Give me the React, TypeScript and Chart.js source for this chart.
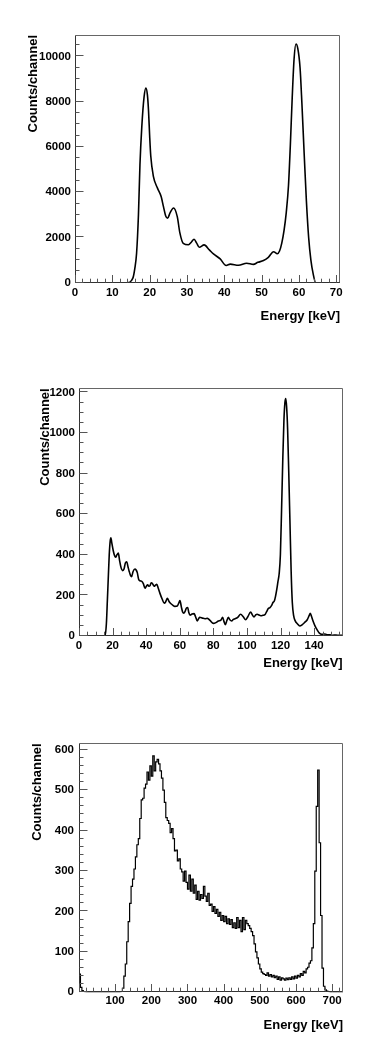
import React, { useEffect, useRef } from "react";
import { Chart, registerables } from "chart.js";

Chart.register(...registerables);

// ---------- Panel 1 : smooth spectrum 0-70 keV ----------
const energyA = [0, 14, 15.5, 16.0, 16.5, 17.0, 17.4, 17.9, 18.5, 19.0, 19.4, 19.7, 20.0, 20.3, 21.0, 22.1, 23.1, 23.7, 24.3, 24.8, 25.5, 26.4, 27.4, 28.1, 29.0, 30.4, 31.2, 31.9, 32.6, 33.3, 34.6, 36.0, 37.1, 38.9, 40.5, 41.6, 43.8, 46.0, 47.8, 49.0, 50.5, 51.8, 53.2, 54.2, 54.8, 55.4, 56.0, 56.6, 57.2, 57.7, 58.2, 58.7, 59.2, 59.7, 60.3, 60.8, 61.4, 62.0, 62.6, 63.2, 63.8, 64.5, 71];
const countsA = [0, 0, 200, 600, 1300, 3000, 5200, 6900, 8200, 8600, 8300, 7600, 6500, 5600, 4700, 4180, 3800, 3360, 2950, 2850, 3100, 3300, 2920, 2200, 1740, 1680, 1800, 1920, 1750, 1570, 1670, 1450, 1270, 1050, 760, 820, 770, 860, 810, 900, 980, 1120, 1370, 1280, 1400, 1750, 2300, 3100, 4300, 6100, 8200, 9900, 10550, 10350, 9500, 7900, 5700, 3600, 2000, 1000, 400, 0, 0];
const xTicksA = [0, 10, 20, 30, 40, 50, 60, 70];
const yTicksA = [0, 2000, 4000, 6000, 8000, 10000];

// ---------- Panel 2 : smooth spectrum 0-157 keV ----------
const energyB = [0, 15.5, 16.3, 16.9, 17.5, 18.0, 18.6, 19.0, 19.5, 20.4, 21.2, 21.8, 22.6, 23.4, 24.2, 25.0, 26.0, 26.8, 27.6, 28.4, 29.2, 29.9, 30.6, 31.3, 32.2, 33.3, 34.0, 34.7, 35.5, 36.3, 37.2, 38.3, 39.3, 40.1, 40.9, 41.6, 42.3, 43.0, 43.6, 44.3, 44.8, 45.5, 46.3, 47.2, 48.2, 49.5, 50.8, 51.7, 52.6, 53.6, 54.6, 55.8, 57.1, 58.5, 59.3, 60.1, 60.9, 61.7, 62.4, 63.1, 64.0, 64.7, 65.4, 66.1, 67.3, 68.5, 69.4, 70.4, 71.2, 71.9, 73.5, 75.0, 76.5, 78.0, 80.0, 81.5, 83.0, 84.5, 85.5, 86.3, 87.1, 88.0, 88.9, 89.8, 90.9, 91.9, 92.9, 94.5, 96.2, 97.8, 99.2, 100.5, 102.2, 103.2, 104.2, 105.2, 106.1, 107.2, 108.2, 109.5, 110.7, 111.7, 112.7, 113.7, 114.7, 115.5, 116.3, 117.0, 117.7, 118.4, 119.2, 119.9, 120.6, 121.3, 122.0, 122.6, 123.1, 123.6, 124.2, 124.9, 125.6, 126.3, 127.0, 127.8, 128.6, 130.0, 131.5, 132.8, 134.5, 135.9, 137.0, 137.7, 138.5, 139.5, 140.5, 141.8, 143.1, 144.5, 146.4, 148.0, 149.4, 151.0, 153.0, 155.0, 157.0];
const countsB = [0, 0, 60, 177, 300, 400, 470, 484, 460, 420, 395, 388, 400, 408, 370, 338, 322, 330, 360, 366, 340, 318, 300, 292, 318, 330, 325, 312, 280, 272, 270, 258, 235, 245, 252, 245, 248, 262, 260, 250, 245, 250, 255, 235, 210, 182, 161, 170, 186, 170, 160, 152, 146, 148, 160, 175, 145, 118, 112, 120, 138, 140, 115, 102, 108, 110, 95, 74, 85, 92, 88, 85, 87, 77, 62, 66, 74, 78, 92, 72, 56, 75, 92, 80, 74, 82, 85, 92, 107, 95, 80, 95, 118, 104, 94, 104, 107, 103, 100, 102, 105, 120, 135, 140, 151, 165, 172, 195, 227, 265, 309, 400, 620, 860, 1060, 1150, 1170, 1130, 1020, 800, 560, 320, 165, 100, 77, 60, 49, 55, 68, 80, 100, 112, 95, 70, 50, 30, 14, 8, 10, 6, 6, 4, 5, 3, 3];
const xTicksB = [0, 20, 40, 60, 80, 100, 120, 140];
const yTicksB = [0, 200, 400, 600, 800, 1000, 1200];

// ---------- Panel 3 : histogram 0-730 keV, 4 keV channels ----------
const binWidthC = 4;
const countsC = [
  150, 45, 12, 4, 2, 1, 0, 0, 0, 0,
  0, 0, 0, 0, 0, 0, 0, 0, 0, 0,
  0, 0, 0, 0, 0, 0, 0, 0, 0, 1,
  2, 10, 40, 70, 125, 175, 220, 262, 280, 305,
  335, 365, 380, 430, 476, 480, 505, 515, 545, 525,
  560, 535, 585, 548, 570, 576, 565, 548, 530, 500,
  470, 432, 425, 418, 395, 405, 380, 350, 352, 325,
  330, 305, 298, 275, 300, 272, 255, 290, 250, 280,
  245, 265, 230, 250, 228, 242, 232, 262, 238, 225,
  245, 215, 218, 200, 212, 195, 205, 188, 198, 178,
  190, 175, 188, 170, 182, 168, 180, 160, 172, 158,
  185, 160, 178, 150, 185, 155, 178, 170, 165, 158,
  150, 140, 120, 100, 85, 70, 58, 50, 46, 44,
  42, 48, 40, 44, 38, 42, 36, 40, 32, 38,
  30, 36, 33, 30, 35, 31, 36, 32, 38, 33,
  40, 35, 42, 38, 46, 42, 52, 48, 58, 62,
  72, 78, 110, 170, 300, 460, 550, 370, 190, 60,
  15, 6, 3, 2, 1, 0, 1, 0, 0, 1, 0, 0, 0,
];
const xTicksC = [100, 200, 300, 400, 500, 600, 700];
const yTicksC = [0, 100, 200, 300, 400, 500, 600];

const X_TITLE = "Energy [keV]";
const Y_TITLE = "Counts/channel";

const W = 382;

const pointsA = energyA.map((e, i) => ({ x: e, y: countsA[i] }));
const pointsB = energyB.map((e, i) => ({ x: e, y: countsB[i] }));
const pointsC = [{ x: 0, y: 0 }]
  .concat(countsC.map((c, i) => ({ x: i * binWidthC, y: c })))
  .concat([{ x: countsC.length * binWidthC, y: 0 }]);

type PanelCfg = {
  canvasH: number;
  area: { left: number; top: number; right: number; bottom: number };
  xMin: number; xMax: number; yMin: number; yMax: number;
  xTicks: number[]; yTicks: number[];
  xMajor: number; xMinor: number; yMajor: number; yMinor: number;
  xLabelPad: number; yLabelPad: number; xTitlePad: number; yTitlePad: number;
  points: { x: number; y: number }[];
  stepped: boolean;
  lineWidth: number;
};

const panels: PanelCfg[] = [
  {
    canvasH: 340,
    area: { left: 75, top: 35, right: 340, bottom: 282.7 },
    xMin: 0, xMax: 71, yMin: 0, yMax: 10950,
    xTicks: xTicksA, yTicks: yTicksA,
    xMajor: 10, xMinor: 2, yMajor: 2000, yMinor: 500,
    xLabelPad: 3.4, yLabelPad: 4, xTitlePad: 15.5, yTitlePad: 25.2,
    points: pointsA, stepped: false, lineWidth: 1.6,
  },
  {
    canvasH: 340,
    area: { left: 79, top: 48.3, right: 342.7, bottom: 296 },
    xMin: 0, xMax: 157, yMin: 0, yMax: 1220,
    xTicks: xTicksB, yTicks: yTicksB,
    xMajor: 20, xMinor: 5, yMajor: 200, yMinor: 50,
    xLabelPad: 3.4, yLabelPad: 4, xTitlePad: 8.9, yTitlePad: 37.7,
    points: pointsB, stepped: false, lineWidth: 1.6,
  },
  {
    canvasH: 383,
    area: { left: 79, top: 63.3, right: 343, bottom: 312.3 },
    xMin: 0, xMax: 730, yMin: 0, yMax: 616,
    xTicks: xTicksC, yTicks: yTicksC,
    xMajor: 100, xMinor: 20, yMajor: 100, yMinor: 20,
    xLabelPad: 2, yLabelPad: 5, xTitlePad: 30.2, yTitlePad: 29.5,
    points: pointsC, stepped: true, lineWidth: 1.2,
  },
];

const FONT_FAMILY = "'Liberation Sans', Arial, Helvetica, sans-serif";

const frameTicksPlugin = {
  id: "frameTicks",
  afterDatasetsDraw(chart: any, _args: any, opts: any) {
    const { ctx, chartArea: a, scales } = chart;
    const xs = scales.x;
    const ys = scales.y;
    const L = Math.round(a.left) + 0.5;
    const R = Math.round(a.right) - 0.5;
    const T = Math.round(a.top) + 0.5;
    const B = Math.round(a.bottom) - 0.5;
    ctx.save();
    ctx.lineWidth = 1;
    // frame
    ctx.strokeStyle = "#666";
    ctx.beginPath();
    ctx.moveTo(L, T);
    ctx.lineTo(R, T);
    ctx.lineTo(R, B);
    ctx.stroke();
    // axes
    ctx.strokeStyle = "#333";
    ctx.beginPath();
    ctx.moveTo(L, T);
    ctx.lineTo(L, B);
    ctx.lineTo(R, B);
    ctx.stroke();
    // ticks (inside, ROOT style)
    ctx.strokeStyle = "#555";
    const isMajor = (v: number, step: number) =>
      Math.abs(v / step - Math.round(v / step)) < 1e-6;
    for (let k = Math.ceil(xs.min / opts.xMinor); k * opts.xMinor <= xs.max + 1e-9; k++) {
      const v = k * opts.xMinor;
      const px = Math.round(xs.getPixelForValue(v)) + 0.5;
      const len = isMajor(v, opts.xMajor) ? 7.5 : 3.8;
      ctx.beginPath();
      ctx.moveTo(px, B);
      ctx.lineTo(px, B - len);
      ctx.stroke();
    }
    for (let k = Math.ceil(ys.min / opts.yMinor); k * opts.yMinor <= ys.max + 1e-9; k++) {
      const v = k * opts.yMinor;
      const py = Math.round(ys.getPixelForValue(v)) - 0.5;
      const len = isMajor(v, opts.yMajor) ? 8 : 4;
      ctx.beginPath();
      ctx.moveTo(L, py);
      ctx.lineTo(L + len, py);
      ctx.stroke();
    }
    ctx.restore();
  },
};

function makeChart(canvas: HTMLCanvasElement, p: PanelCfg) {
  const tickFont = { family: FONT_FAMILY, size: 11.5, weight: "bold" as const };
  const titleFont = { family: FONT_FAMILY, size: 13, weight: "bold" as const };
  return new Chart(canvas, {
    type: "line",
    data: {
      datasets: [
        {
          data: p.points,
          borderColor: "#000",
          borderWidth: p.lineWidth,
          pointRadius: 0,
          fill: false,
          stepped: p.stepped ? "after" : false,
          cubicInterpolationMode: p.stepped ? "default" : "monotone",
          tension: p.stepped ? 0 : 0.4,
        } as any,
      ],
    },
    options: {
      animation: false,
      responsive: false,
      devicePixelRatio: 1,
      events: [],
      layout: {
        padding: { left: 0, top: p.area.top, right: W - p.area.right, bottom: 0 },
      },
      plugins: {
        legend: { display: false },
        tooltip: { enabled: false },
        frameTicks: {
          xMajor: p.xMajor, xMinor: p.xMinor, yMajor: p.yMajor, yMinor: p.yMinor,
        },
      } as any,
      scales: {
        x: {
          type: "linear",
          min: p.xMin,
          max: p.xMax,
          grid: { display: false, drawTicks: false, tickLength: 0 },
          border: { display: false },
          afterBuildTicks: (s: any) => {
            s.ticks = p.xTicks.map((v) => ({ value: v }));
          },
          afterFit: (s: any) => {
            s.height = p.canvasH - p.area.bottom;
          },
          ticks: {
            font: tickFont,
            color: "#000",
            padding: p.xLabelPad,
            maxRotation: 0,
            autoSkip: false,
            callback: (v: any) => String(v),
          },
          title: {
            display: true,
            text: X_TITLE,
            align: "end",
            color: "#000",
            font: titleFont,
            padding: { top: 0, bottom: p.xTitlePad },
          },
        },
        y: {
          type: "linear",
          min: p.yMin,
          max: p.yMax,
          grid: { display: false, drawTicks: false, tickLength: 0 },
          border: { display: false },
          afterBuildTicks: (s: any) => {
            s.ticks = p.yTicks.map((v) => ({ value: v }));
          },
          afterFit: (s: any) => {
            s.width = p.area.left;
          },
          ticks: {
            font: tickFont,
            color: "#000",
            padding: p.yLabelPad,
            autoSkip: false,
            callback: (v: any) => String(v),
          },
          title: {
            display: true,
            text: Y_TITLE,
            align: "end",
            color: "#000",
            font: titleFont,
            padding: { top: p.yTitlePad, bottom: 0 },
          },
        },
      } as any,
    },
    plugins: [frameTicksPlugin],
  });
}

function Panel({ p }: { p: PanelCfg }) {
  const ref = useRef<HTMLCanvasElement | null>(null);
  useEffect(() => {
    if (!ref.current) return;
    const chart = makeChart(ref.current, p);
    return () => chart.destroy();
  }, [p]);
  return (
    <canvas
      ref={ref}
      width={W}
      height={p.canvasH}
      style={{ display: "block", width: W, height: p.canvasH }}
    />
  );
}

export default function App() {
  return (
    <div
      style={{
        position: "absolute",
        left: 0,
        top: 0,
        width: W,
        height: 1063,
        background: "#fff",
      }}
    >
      {panels.map((p, i) => (
        <Panel key={i} p={p} />
      ))}
    </div>
  );
}
